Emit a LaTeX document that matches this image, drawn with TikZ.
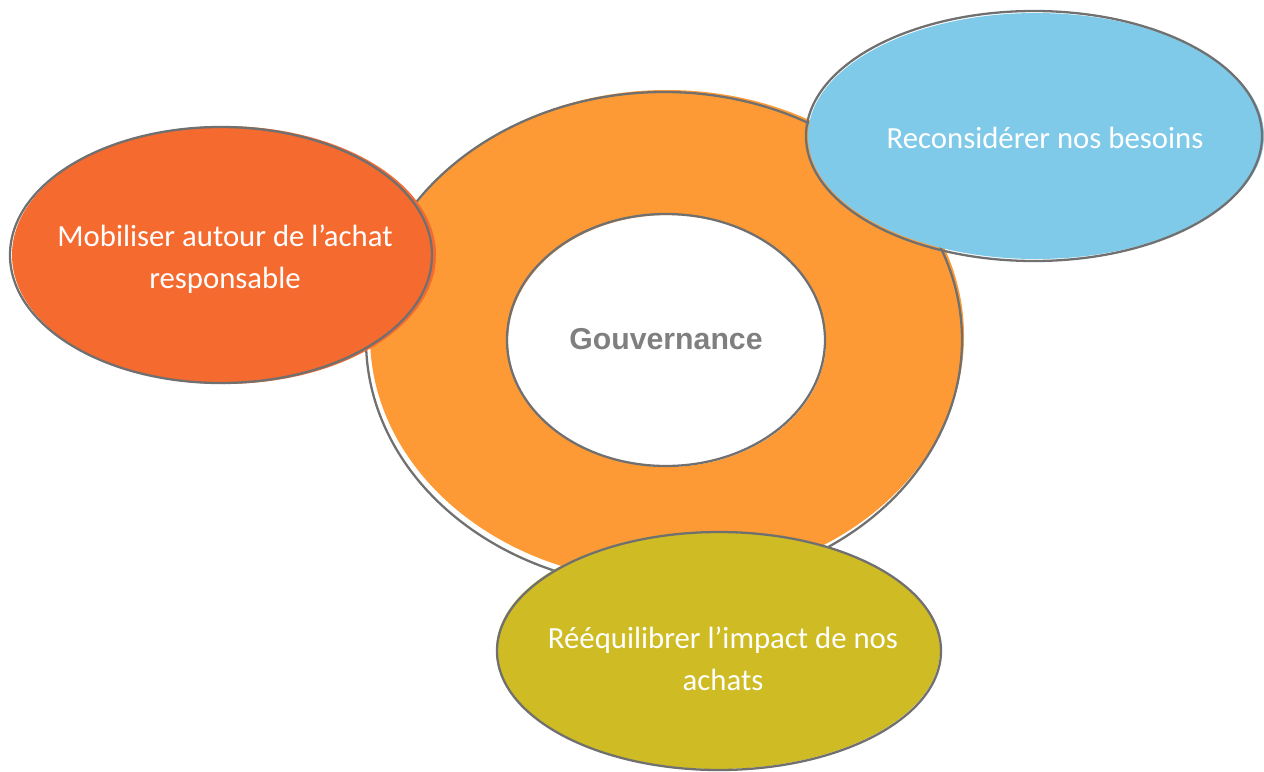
\documentclass[tikz,border=0pt]{standalone}
\usepackage{fontspec}
\setmainfont{Carlito}
\newfontfamily\boldsans{Liberation Sans}
\definecolor{ringorange}{RGB}{253, 154, 53}
\definecolor{mobilise}{RGB}{245, 106, 47}
\definecolor{besoins}{RGB}{128, 202, 233}
\definecolor{impact}{RGB}{207, 187, 35}
\definecolor{sketch}{RGB}{112, 112, 112}
\definecolor{govgray}{RGB}{127, 127, 127}

\tikzset{
	outline/.style={draw=sketch, line width=1.3pt},
	label/.style={text=white, align=center, font=\fontsize{17.5}{24}\selectfont},
}

\begin{document}
\begin{tikzpicture}[x=0.02cm, y=-0.02cm]
			\useasboundingbox (0, 0) rectangle (1264, 771);
			% central ring
			\fill [ringorange, even odd rule] (667, 336) ellipse (297 and 246) (667, 341) ellipse (159 and 126);
			\draw [outline] (664, 340) ellipse (298 and 248);
			\draw [outline] (666, 340) ellipse (159 and 126);
			\node (gov) at (666, 339) {\boldsans\bfseries\fontsize{17.2}{21}\selectfont\color{govgray}Gouvernance};
			% left
			\fill [mobilise] (224, 255) ellipse (212 and 129);
			\draw [outline] (221, 255) ellipse (211 and 128);
			\node [label] (mob) at (225, 259) {Mobiliser autour de l’achat\\responsable};
			% top right
			\fill [besoins] (1036, 136) ellipse (228 and 123);
			\draw [outline] (1034, 136) ellipse (228 and 125);
			\node [label] (bes) at (1045, 138) {Reconsidérer nos besoins};
			% bottom
			\fill [impact] (718, 650) ellipse (222 and 119);
			\draw [outline] (719, 651) ellipse (222 and 119);
			\node [label] (imp) at (723, 659) {Rééquilibrer l’impact de nos\\achats};
		\end{tikzpicture}
\end{document}
